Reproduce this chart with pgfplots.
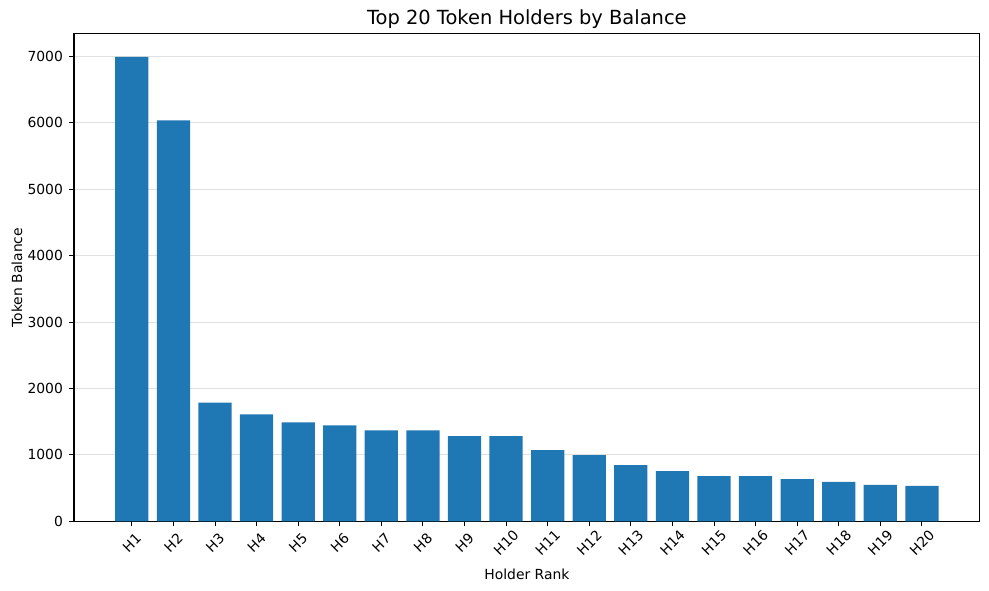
\documentclass[border=0pt]{standalone}
\usepackage{fontspec}
\setmainfont{DejaVu Sans}
\usepackage{pgfplots}
\pgfplotsset{compat=1.18}
\definecolor{mplblue}{HTML}{1F77B4}

\begin{document}
\begin{tikzpicture}
\begin{axis}[
  scale only axis,
  width=652bp, height=351bp,
  ybar, bar width=0.8, bar shift=0pt,
  xmin=-1.39, xmax=20.39,
  ymin=0, ymax=7340,
  xtick=data,
  xticklabels={H1,H2,H3,H4,H5,H6,H7,H8,H9,H10,H11,H12,H13,H14,H15,H16,H17,H18,H19,H20},
  ytick={0,1000,2000,3000,4000,5000,6000,7000},
  scaled y ticks=false,
  /pgf/number format/assume math mode=true,
  yticklabel={\pgfmathprintnumber[fixed,precision=0,1000 sep={}]{\tick}},
  tick style={black, line width=0.6bp},
  tick align=outside,
  major tick length=3.5bp,
  xtick pos=bottom, ytick pos=left,
  ymajorgrids,
  grid style={line width=0.6bp, black!12},
  axis line style={line width=0.8bp},
  ticklabel style={font=\fontsize{10bp}{12bp}\selectfont},
  xticklabel style={yshift=-12bp, rotate=45, anchor=center},
  yticklabel style={xshift=-1bp},
  xlabel={Holder Rank},
  ylabel={Token Balance},
  label style={font=\fontsize{10bp}{12bp}\selectfont},
  xlabel style={at={(axis description cs:0.5,0)}, anchor=north, yshift=-30.5bp},
  ylabel style={at={(axis description cs:-0.063,0.5)}, anchor=center},
  title={Top 20 Token Holders by Balance},
  title style={font=\fontsize{14bp}{17bp}\selectfont, yshift=-6bp},
]
\addplot[fill=mplblue, draw=none] coordinates {
(0,6990) (1,6035) (2,1788) (3,1609) (4,1490) (5,1445) (6,1370) (7,1370) (8,1281) (9,1281)
(10,1073) (11,996) (12,846) (13,756) (14,681) (15,681) (16,636) (17,592) (18,547) (19,532)
};
\end{axis}
\pgfresetboundingbox
\path (current axis.south west) ++(-53.3bp,-49.7bp) rectangle ++(712bp,425bp);
\end{tikzpicture}
\end{document}
